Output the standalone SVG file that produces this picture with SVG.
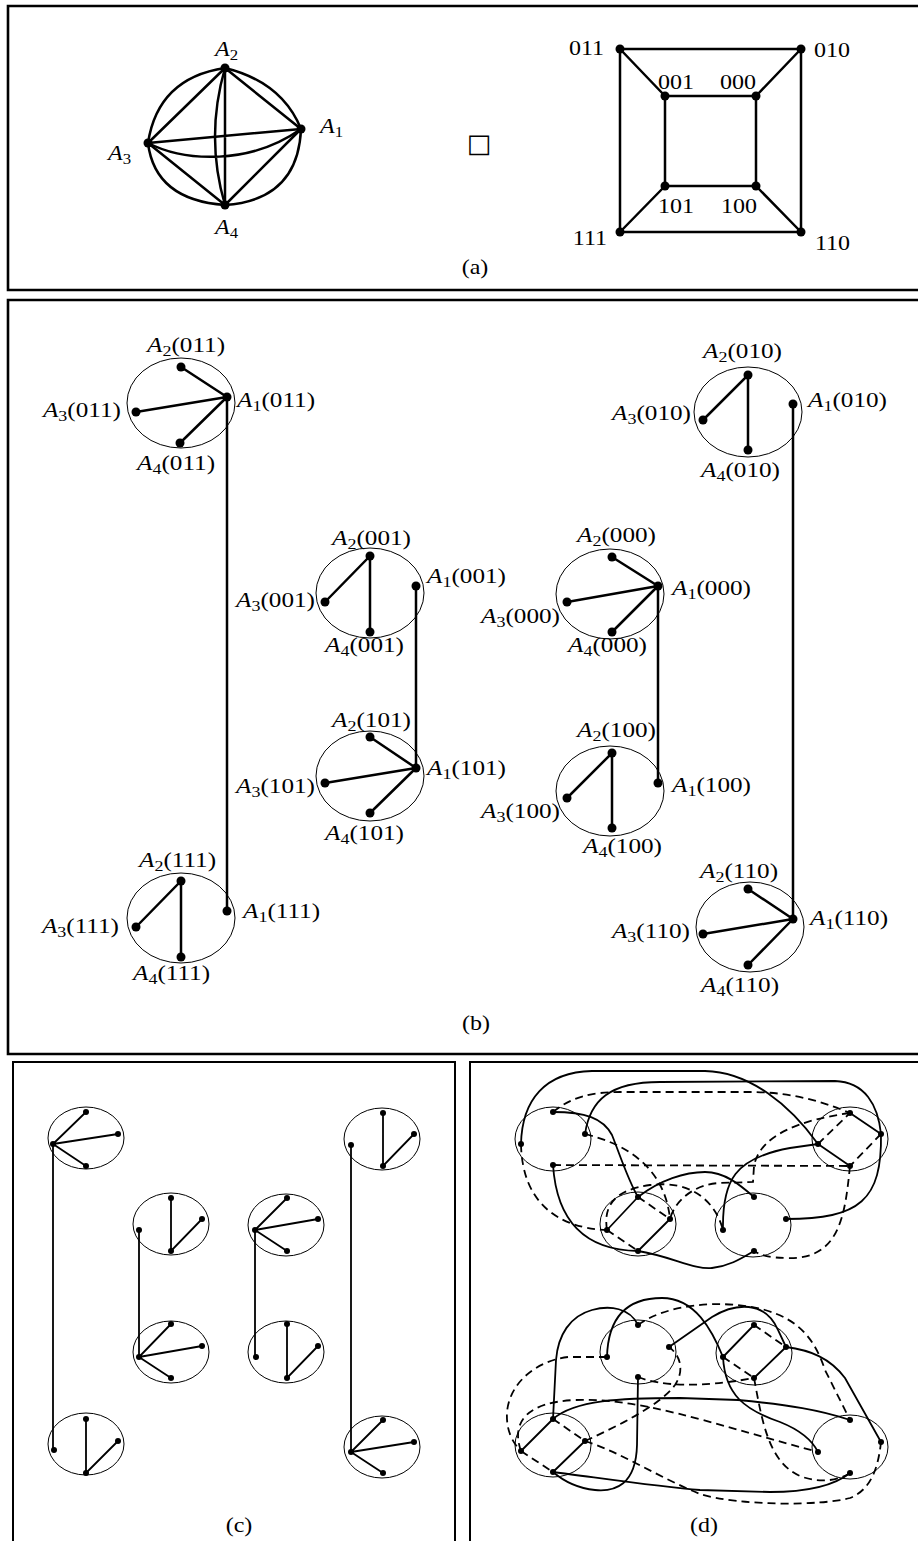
<svg xmlns="http://www.w3.org/2000/svg" width="918" height="1541" viewBox="0 0 918 1541">
<style>
.fr{fill:none;stroke:#000;stroke-width:2.6}
.fr2{fill:none;stroke:#000;stroke-width:2}
.e{fill:none;stroke:#000;stroke-width:2.5;stroke-linecap:round}
.e2{fill:none;stroke:#000;stroke-width:1.8;stroke-linecap:round}
.dd{fill:none;stroke:#000;stroke-width:1.8;stroke-dasharray:8,5}
.el{fill:none;stroke:#000;stroke-width:1}
.lb{font-family:"Liberation Serif","Times New Roman",serif;font-size:20px;fill:#000}
.i{font-style:italic}
.s{font-size:14px}
.bc .lb{font-size:21px}
.bc .s{font-size:15px}
.sym{font-family:"DejaVu Sans",sans-serif;font-size:26px;fill:#000}
</style>

<g id="frames">
<path class="fr" d="M918,6 H8 V290 H918"/>
<path class="fr" d="M918,300 H8 V1054 H918"/>
<path class="fr2" d="M13,1541 V1062 H455 V1541"/>
<path class="fr2" d="M470,1541 V1062 H918"/>
</g>

<!-- (a) K4 -->
<g id="k4">
<path class="e" d="M225,68 L301,129 M225,68 L148,143 M225,68 L225,205 M148,143 L301,129 M148,143 L225,205 M225,205 L301,129"/>
<path class="e" d="M148,143 Q158,78 225,68 M225,68 Q282,82 301,129 M301,129 Q298,200 225,205 M148,143 Q155,200 225,205 M225,68 Q205,137 225,205 M148,143 C185,162 250,165 301,129"/>
<circle cx="225" cy="68" r="4.5"/><circle cx="301" cy="129" r="4.5"/><circle cx="148" cy="143" r="4.5"/><circle cx="225" cy="205" r="4.5"/>
<text class="lb" transform="translate(215,56) scale(1.2,1)"><tspan class="i">A</tspan><tspan class="s" dy="4">2</tspan></text>
<text class="lb" transform="translate(320,133) scale(1.2,1)"><tspan class="i">A</tspan><tspan class="s" dy="4">1</tspan></text>
<text class="lb" transform="translate(108,160) scale(1.2,1)"><tspan class="i">A</tspan><tspan class="s" dy="4">3</tspan></text>
<text class="lb" transform="translate(215,234) scale(1.2,1)"><tspan class="i">A</tspan><tspan class="s" dy="4">4</tspan></text>
</g>
<text id="box" class="sym" x="479" y="152" text-anchor="middle">□</text>

<!-- (a) cube -->
<g id="cube">
<path class="e" d="M620,49 H801 V232 H620 Z M665,96 H756 V186 H665 Z M620,49 L665,96 M801,49 L756,96 M620,232 L665,186 M801,232 L756,186"/>
<circle cx="620" cy="49" r="4.5"/><circle cx="801" cy="49" r="4.5"/><circle cx="665" cy="96" r="4.5"/><circle cx="756" cy="96" r="4.5"/>
<circle cx="665" cy="186" r="4.5"/><circle cx="756" cy="186" r="4.5"/><circle cx="620" cy="232" r="4.5"/><circle cx="801" cy="232" r="4.5"/>
<text class="lb" text-anchor="end" transform="translate(604,55) scale(1.2,1)">011</text>
<text class="lb" transform="translate(814,57) scale(1.2,1)">010</text>
<text class="lb" transform="translate(658,89) scale(1.2,1)">001</text>
<text class="lb" transform="translate(720,89) scale(1.2,1)">000</text>
<text class="lb" transform="translate(658,213) scale(1.2,1)">101</text>
<text class="lb" transform="translate(721,213) scale(1.2,1)">100</text>
<text class="lb" text-anchor="end" transform="translate(607,245) scale(1.2,1)">111</text>
<text class="lb" transform="translate(815,250) scale(1.2,1)">110</text>
</g>
<text class="lb" text-anchor="middle" transform="translate(475,274) scale(1.2,1)">(a)</text>

<!-- (b) connectors -->
<g id="b-connectors">
<path class="e" d="M227,397 V911 M416,586 V768 M658,586 V783 M793,404 V919"/>
</g>

<g id="b011" class="bc">
<ellipse class="el" cx="181" cy="403" rx="54" ry="45"/>
<path class="e" d="M181,367 L227,397 M136,412 L227,397 M180,443 L227,397"/>
<circle cx="181" cy="367" r="4.5"/><circle cx="227" cy="397" r="4.5"/><circle cx="136" cy="412" r="4.5"/><circle cx="180" cy="443" r="4.5"/>
<text class="lb" transform="translate(147,352) scale(1.2,1)"><tspan class="i">A</tspan><tspan class="s" dy="4">2</tspan><tspan dy="-4">(011)</tspan></text>
<text class="lb" transform="translate(237,407) scale(1.2,1)"><tspan class="i">A</tspan><tspan class="s" dy="4">1</tspan><tspan dy="-4">(011)</tspan></text>
<text class="lb" text-anchor="end" transform="translate(121,417) scale(1.2,1)"><tspan class="i">A</tspan><tspan class="s" dy="4">3</tspan><tspan dy="-4">(011)</tspan></text>
<text class="lb" transform="translate(137,470) scale(1.2,1)"><tspan class="i">A</tspan><tspan class="s" dy="4">4</tspan><tspan dy="-4">(011)</tspan></text>
</g>

<g id="b001" class="bc">
<ellipse class="el" cx="370" cy="593" rx="54" ry="45"/>
<path class="e" d="M325,602 L370,556 L370,632"/>
<circle cx="370" cy="556" r="4.5"/><circle cx="416" cy="586" r="4.5"/><circle cx="325" cy="602" r="4.5"/><circle cx="370" cy="632" r="4.5"/>
<text class="lb" transform="translate(332,545) scale(1.2,1)"><tspan class="i">A</tspan><tspan class="s" dy="4">2</tspan><tspan dy="-4">(001)</tspan></text>
<text class="lb" transform="translate(427,583) scale(1.2,1)"><tspan class="i">A</tspan><tspan class="s" dy="4">1</tspan><tspan dy="-4">(001)</tspan></text>
<text class="lb" text-anchor="end" transform="translate(315,607) scale(1.2,1)"><tspan class="i">A</tspan><tspan class="s" dy="4">3</tspan><tspan dy="-4">(001)</tspan></text>
<text class="lb" transform="translate(325,652) scale(1.2,1)"><tspan class="i">A</tspan><tspan class="s" dy="4">4</tspan><tspan dy="-4">(001)</tspan></text>
</g>

<g id="b101" class="bc">
<ellipse class="el" cx="370" cy="776" rx="54" ry="45"/>
<path class="e" d="M370,737 L416,768 M325,783 L416,768 M370,813 L416,768"/>
<circle cx="370" cy="737" r="4.5"/><circle cx="416" cy="768" r="4.5"/><circle cx="325" cy="783" r="4.5"/><circle cx="370" cy="813" r="4.5"/>
<text class="lb" transform="translate(332,727) scale(1.2,1)"><tspan class="i">A</tspan><tspan class="s" dy="4">2</tspan><tspan dy="-4">(101)</tspan></text>
<text class="lb" transform="translate(427,775) scale(1.2,1)"><tspan class="i">A</tspan><tspan class="s" dy="4">1</tspan><tspan dy="-4">(101)</tspan></text>
<text class="lb" text-anchor="end" transform="translate(315,793) scale(1.2,1)"><tspan class="i">A</tspan><tspan class="s" dy="4">3</tspan><tspan dy="-4">(101)</tspan></text>
<text class="lb" transform="translate(325,840) scale(1.2,1)"><tspan class="i">A</tspan><tspan class="s" dy="4">4</tspan><tspan dy="-4">(101)</tspan></text>
</g>

<g id="b111" class="bc">
<ellipse class="el" cx="181" cy="918" rx="54" ry="45"/>
<path class="e" d="M136,927 L181,881 L181,957"/>
<circle cx="181" cy="881" r="4.5"/><circle cx="227" cy="911" r="4.5"/><circle cx="136" cy="927" r="4.5"/><circle cx="181" cy="957" r="4.5"/>
<text class="lb" transform="translate(139,867) scale(1.2,1)"><tspan class="i">A</tspan><tspan class="s" dy="4">2</tspan><tspan dy="-4">(111)</tspan></text>
<text class="lb" transform="translate(243,918) scale(1.2,1)"><tspan class="i">A</tspan><tspan class="s" dy="4">1</tspan><tspan dy="-4">(111)</tspan></text>
<text class="lb" text-anchor="end" transform="translate(119,933) scale(1.2,1)"><tspan class="i">A</tspan><tspan class="s" dy="4">3</tspan><tspan dy="-4">(111)</tspan></text>
<text class="lb" transform="translate(133,980) scale(1.2,1)"><tspan class="i">A</tspan><tspan class="s" dy="4">4</tspan><tspan dy="-4">(111)</tspan></text>
</g>

<g id="b010" class="bc">
<ellipse class="el" cx="748" cy="412" rx="54" ry="45"/>
<path class="e" d="M703,420 L748,375 L748,450"/>
<circle cx="748" cy="375" r="4.5"/><circle cx="793" cy="404" r="4.5"/><circle cx="703" cy="420" r="4.5"/><circle cx="748" cy="450" r="4.5"/>
<text class="lb" transform="translate(703,358) scale(1.2,1)"><tspan class="i">A</tspan><tspan class="s" dy="4">2</tspan><tspan dy="-4">(010)</tspan></text>
<text class="lb" transform="translate(808,407) scale(1.2,1)"><tspan class="i">A</tspan><tspan class="s" dy="4">1</tspan><tspan dy="-4">(010)</tspan></text>
<text class="lb" text-anchor="end" transform="translate(691,420) scale(1.2,1)"><tspan class="i">A</tspan><tspan class="s" dy="4">3</tspan><tspan dy="-4">(010)</tspan></text>
<text class="lb" transform="translate(701,477) scale(1.2,1)"><tspan class="i">A</tspan><tspan class="s" dy="4">4</tspan><tspan dy="-4">(010)</tspan></text>
</g>

<g id="b000" class="bc">
<ellipse class="el" cx="610" cy="594" rx="54" ry="45"/>
<path class="e" d="M612,557 L658,586 M567,602 L658,586 M612,632 L658,586"/>
<circle cx="612" cy="557" r="4.5"/><circle cx="658" cy="586" r="4.5"/><circle cx="567" cy="602" r="4.5"/><circle cx="612" cy="632" r="4.5"/>
<text class="lb" transform="translate(577,542) scale(1.2,1)"><tspan class="i">A</tspan><tspan class="s" dy="4">2</tspan><tspan dy="-4">(000)</tspan></text>
<text class="lb" transform="translate(672,595) scale(1.2,1)"><tspan class="i">A</tspan><tspan class="s" dy="4">1</tspan><tspan dy="-4">(000)</tspan></text>
<text class="lb" text-anchor="end" transform="translate(560,623) scale(1.2,1)"><tspan class="i">A</tspan><tspan class="s" dy="4">3</tspan><tspan dy="-4">(000)</tspan></text>
<text class="lb" transform="translate(568,652) scale(1.2,1)"><tspan class="i">A</tspan><tspan class="s" dy="4">4</tspan><tspan dy="-4">(000)</tspan></text>
</g>

<g id="b100" class="bc">
<ellipse class="el" cx="610" cy="791" rx="54" ry="45"/>
<path class="e" d="M567,798 L612,753 L612,828"/>
<circle cx="612" cy="753" r="4.5"/><circle cx="658" cy="783" r="4.5"/><circle cx="567" cy="798" r="4.5"/><circle cx="612" cy="828" r="4.5"/>
<text class="lb" transform="translate(577,737) scale(1.2,1)"><tspan class="i">A</tspan><tspan class="s" dy="4">2</tspan><tspan dy="-4">(100)</tspan></text>
<text class="lb" transform="translate(672,792) scale(1.2,1)"><tspan class="i">A</tspan><tspan class="s" dy="4">1</tspan><tspan dy="-4">(100)</tspan></text>
<text class="lb" text-anchor="end" transform="translate(560,818) scale(1.2,1)"><tspan class="i">A</tspan><tspan class="s" dy="4">3</tspan><tspan dy="-4">(100)</tspan></text>
<text class="lb" transform="translate(583,853) scale(1.2,1)"><tspan class="i">A</tspan><tspan class="s" dy="4">4</tspan><tspan dy="-4">(100)</tspan></text>
</g>

<g id="b110" class="bc">
<ellipse class="el" cx="750" cy="927" rx="54" ry="45"/>
<path class="e" d="M748,889 L793,919 M703,934 L793,919 M748,965 L793,919"/>
<circle cx="748" cy="889" r="4.5"/><circle cx="793" cy="919" r="4.5"/><circle cx="703" cy="934" r="4.5"/><circle cx="748" cy="965" r="4.5"/>
<text class="lb" transform="translate(700,878) scale(1.2,1)"><tspan class="i">A</tspan><tspan class="s" dy="4">2</tspan><tspan dy="-4">(110)</tspan></text>
<text class="lb" transform="translate(810,925) scale(1.2,1)"><tspan class="i">A</tspan><tspan class="s" dy="4">1</tspan><tspan dy="-4">(110)</tspan></text>
<text class="lb" text-anchor="end" transform="translate(690,938) scale(1.2,1)"><tspan class="i">A</tspan><tspan class="s" dy="4">3</tspan><tspan dy="-4">(110)</tspan></text>
<text class="lb" transform="translate(701,992) scale(1.2,1)"><tspan class="i">A</tspan><tspan class="s" dy="4">4</tspan><tspan dy="-4">(110)</tspan></text>
</g>
<text class="lb" text-anchor="middle" transform="translate(476,1030) scale(1.2,1)">(b)</text>

<!-- (c) -->
<g id="c-connectors">
<path class="e2" d="M53,1144 V1450 M139,1230 V1357 M255,1230 V1357 M351,1145 V1452"/>
</g>
<g id="c1"><ellipse class="el" cx="86" cy="1138" rx="38" ry="31"/>
<path class="e2" d="M53,1144 L86,1112 M53,1144 L118,1134 M53,1144 L86,1166"/>
<circle cx="53" cy="1144" r="3"/><circle cx="86" cy="1112" r="3"/><circle cx="118" cy="1134" r="3"/><circle cx="86" cy="1166" r="3"/></g>
<g id="c2"><ellipse class="el" cx="86" cy="1444" rx="38" ry="31"/>
<path class="e2" d="M86,1419 L86,1473 L118,1441"/>
<circle cx="54" cy="1450" r="3"/><circle cx="86" cy="1419" r="3"/><circle cx="118" cy="1441" r="3"/><circle cx="86" cy="1473" r="3"/></g>
<g id="c3"><ellipse class="el" cx="171" cy="1224" rx="38" ry="31"/>
<path class="e2" d="M171,1198 L171,1251 L202,1219"/>
<circle cx="139" cy="1230" r="3"/><circle cx="171" cy="1198" r="3"/><circle cx="202" cy="1219" r="3"/><circle cx="171" cy="1251" r="3"/></g>
<g id="c4"><ellipse class="el" cx="171" cy="1352" rx="38" ry="31"/>
<path class="e2" d="M139,1357 L171,1324 M139,1357 L202,1346 M139,1357 L171,1378"/>
<circle cx="139" cy="1357" r="3"/><circle cx="171" cy="1324" r="3"/><circle cx="202" cy="1346" r="3"/><circle cx="171" cy="1378" r="3"/></g>
<g id="c5"><ellipse class="el" cx="286" cy="1225" rx="38" ry="31"/>
<path class="e2" d="M255,1230 L287,1198 M255,1230 L318,1219 M255,1230 L287,1251"/>
<circle cx="255" cy="1230" r="3"/><circle cx="287" cy="1198" r="3"/><circle cx="318" cy="1219" r="3"/><circle cx="287" cy="1251" r="3"/></g>
<g id="c6"><ellipse class="el" cx="286" cy="1352" rx="38" ry="31"/>
<path class="e2" d="M287,1324 L287,1378 L318,1346"/>
<circle cx="256" cy="1357" r="3"/><circle cx="287" cy="1324" r="3"/><circle cx="318" cy="1346" r="3"/><circle cx="287" cy="1378" r="3"/></g>
<g id="c7"><ellipse class="el" cx="382" cy="1139" rx="38" ry="31"/>
<path class="e2" d="M383,1113 L383,1166 L414,1134"/>
<circle cx="351" cy="1145" r="3"/><circle cx="383" cy="1113" r="3"/><circle cx="414" cy="1134" r="3"/><circle cx="383" cy="1166" r="3"/></g>
<g id="c8"><ellipse class="el" cx="382" cy="1447" rx="38" ry="31"/>
<path class="e2" d="M351,1452 L383,1420 M351,1452 L414,1442 M351,1452 L383,1473"/>
<circle cx="351" cy="1452" r="3"/><circle cx="383" cy="1420" r="3"/><circle cx="414" cy="1442" r="3"/><circle cx="383" cy="1473" r="3"/></g>
<text class="lb" text-anchor="middle" transform="translate(239,1532) scale(1.2,1)">(c)</text>

<!-- (d) top connectors -->
<g id="d-top-connectors">
<path class="e2" d="M521,1144 C522,1100 545,1072 592,1071 L705,1071 C750,1072 790,1105 818,1144"/>
<path class="e2" d="M585,1134 C590,1100 610,1082 660,1082 L835,1081 C865,1082 878,1105 881,1134"/>
<path class="e2" d="M881,1134 C882,1200 860,1219 786,1219"/>
<path class="e2" d="M553,1112 C585,1112 603,1118 612,1135 C620,1155 628,1180 638,1197"/>
<path class="e2" d="M553,1165 C556,1210 575,1250 638,1251"/>
<path class="e2" d="M638,1251 C670,1256 695,1270 712,1268 C730,1266 742,1258 754,1251"/>
<path class="e2" d="M638,1197 C660,1180 685,1172 705,1172 C725,1172 740,1185 754,1197"/>
<path class="e2" d="M723,1230 C722,1180 735,1158 790,1148 L818,1144"/>
<path class="dd" d="M553,1112 C570,1098 590,1092 620,1092 L755,1092 C800,1093 830,1105 850,1113"/>
<path class="dd" d="M521,1144 C522,1200 555,1228 607,1230"/>
<path class="dd" d="M553,1165 L850,1166"/>
<path class="dd" d="M585,1134 C630,1145 665,1170 670,1219"/>
<path class="dd" d="M850,1113 C800,1120 760,1135 754,1166 L753,1182 L720,1183 C695,1184 675,1200 670,1219"/>
<path class="dd" d="M607,1230 C603,1205 615,1190 650,1185 C690,1180 715,1200 723,1230"/>
<path class="dd" d="M850,1166 C845,1215 840,1260 787,1258 C770,1258 760,1255 754,1251"/>
</g>
<g id="dE1"><ellipse class="el" cx="553" cy="1139" rx="38" ry="32"/>
<circle cx="553" cy="1112" r="3"/><circle cx="585" cy="1134" r="3"/><circle cx="521" cy="1144" r="3"/><circle cx="553" cy="1165" r="3"/></g>
<g id="dE2"><ellipse class="el" cx="850" cy="1139" rx="38" ry="32"/>
<path class="e2" d="M850,1113 L881,1134 M818,1144 L850,1166"/>
<path class="dd" d="M818,1144 L850,1113 M881,1134 L850,1166"/>
<circle cx="850" cy="1113" r="3"/><circle cx="881" cy="1134" r="3"/><circle cx="818" cy="1144" r="3"/><circle cx="850" cy="1166" r="3"/></g>
<g id="dE3"><ellipse class="el" cx="638" cy="1224" rx="38" ry="32"/>
<path class="e2" d="M638,1197 L607,1230 M670,1219 L638,1251"/>
<path class="dd" d="M638,1197 L670,1219 M607,1230 L638,1251"/>
<circle cx="638" cy="1197" r="3"/><circle cx="670" cy="1219" r="3"/><circle cx="607" cy="1230" r="3"/><circle cx="638" cy="1251" r="3"/></g>
<g id="dE4"><ellipse class="el" cx="753" cy="1225" rx="38" ry="32"/>
<circle cx="754" cy="1197" r="3"/><circle cx="786" cy="1219" r="3"/><circle cx="723" cy="1230" r="3"/><circle cx="754" cy="1251" r="3"/></g>

<!-- (d) bottom connectors -->
<g id="d-bottom-connectors">
<path class="e2" d="M638,1325 C630,1308 610,1305 592,1310 C570,1316 558,1335 556,1360 L553,1419"/>
<path class="e2" d="M607,1357 C608,1320 625,1298 662,1298 C695,1298 712,1330 723,1357"/>
<path class="e2" d="M723,1357 C725,1395 745,1410 780,1422 C800,1430 812,1440 818,1452"/>
<path class="e2" d="M669,1347 L712,1317 C735,1303 765,1300 778,1330 L786,1347"/>
<path class="e2" d="M786,1347 C810,1350 830,1358 845,1378 L881,1442"/>
<path class="e2" d="M553,1419 C575,1400 620,1398 680,1398 L738,1400 C790,1405 820,1410 850,1420"/>
<path class="e2" d="M553,1472 C600,1478 660,1487 700,1490 L770,1492 C810,1492 835,1485 850,1473"/>
<path class="e2" d="M638,1377 L637,1445 C636,1485 615,1492 595,1490 C575,1488 560,1478 553,1472"/>
<path class="dd" d="M607,1357 L568,1357 C540,1360 510,1380 507,1412 C506,1430 512,1442 521,1451"/>
<path class="dd" d="M521,1451 C510,1420 530,1402 575,1400 C640,1398 700,1420 818,1452"/>
<path class="dd" d="M585,1441 C620,1425 660,1405 675,1385 C685,1370 680,1355 669,1347"/>
<path class="dd" d="M638,1377 C660,1386 700,1388 754,1378"/>
<path class="dd" d="M754,1378 C762,1420 768,1462 800,1476 C820,1484 840,1480 850,1473"/>
<path class="dd" d="M638,1325 C665,1305 720,1298 765,1310 C800,1320 815,1340 825,1370 L850,1420"/>
<path class="dd" d="M585,1441 C620,1452 660,1478 700,1494 C740,1506 820,1506 850,1498 C870,1490 878,1470 881,1442"/>
</g>
<g id="dF1"><ellipse class="el" cx="638" cy="1352" rx="38" ry="32"/>
<circle cx="638" cy="1325" r="3"/><circle cx="669" cy="1347" r="3"/><circle cx="607" cy="1357" r="3"/><circle cx="638" cy="1377" r="3"/></g>
<g id="dF2"><ellipse class="el" cx="754" cy="1353" rx="38" ry="32"/>
<path class="e2" d="M723,1357 L754,1325 M786,1347 L754,1378"/>
<path class="dd" d="M754,1325 L786,1347 M723,1357 L754,1378"/>
<circle cx="754" cy="1325" r="3"/><circle cx="786" cy="1347" r="3"/><circle cx="723" cy="1357" r="3"/><circle cx="754" cy="1378" r="3"/></g>
<g id="dF3"><ellipse class="el" cx="553" cy="1445" rx="38" ry="32"/>
<path class="e2" d="M553,1419 L521,1451 M585,1441 L553,1472"/>
<path class="dd" d="M553,1419 L585,1441 M521,1451 L553,1472"/>
<circle cx="553" cy="1419" r="3"/><circle cx="585" cy="1441" r="3"/><circle cx="521" cy="1451" r="3"/><circle cx="553" cy="1472" r="3"/></g>
<g id="dF4"><ellipse class="el" cx="850" cy="1447" rx="38" ry="32"/>
<circle cx="850" cy="1420" r="3"/><circle cx="881" cy="1442" r="3"/><circle cx="818" cy="1452" r="3"/><circle cx="850" cy="1473" r="3"/></g>
<text class="lb" text-anchor="middle" transform="translate(704,1532) scale(1.2,1)">(d)</text>
</svg>
